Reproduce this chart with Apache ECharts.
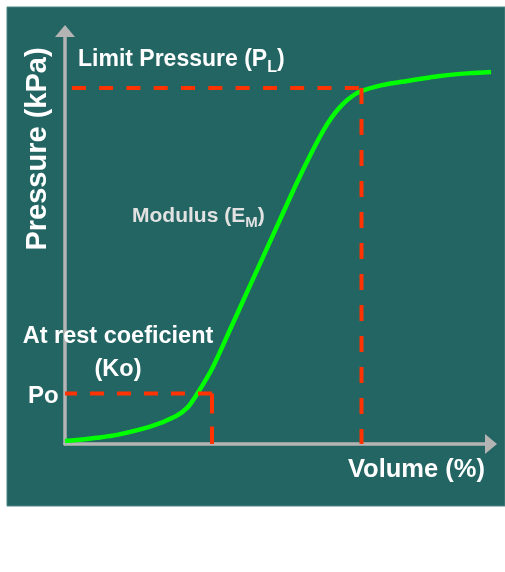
<!DOCTYPE html>
<html>
<head>
<meta charset="utf-8">
<script src="https://cdn.jsdelivr.net/npm/echarts@6/dist/echarts.min.js"></script>
<style>
  html, body { margin: 0; padding: 0; background: #ffffff; }
  #chart { width: 505px; height: 572px; }
</style>
</head>
<body>
<div id="chart"></div>
<script>
// Pressuremeter curve: volume (%) against pressure (kPa), arbitrary units 0-100
const volume   = [0, 8.2, 12.2, 20.0, 26.1, 28.9, 31.0, 34.7, 38.7, 42.7, 46.5, 50.5, 54.4, 58.2, 61.4, 63.8, 66.4, 69.2, 74.4, 79.1, 88.0, 95.1, 100];
const pressure = [0.7, 1.6, 2.2, 4.2, 6.8, 9.0, 12.1, 18.6, 27.6, 36.7, 45.3, 54.4, 63.2, 71.2, 77.2, 80.7, 83.4, 85.3, 86.9, 87.7, 89.1, 89.8, 90.1];

// At-rest point (Po) and limit pressure point (PL)
const poPressure = 12.2;
const poVolume = 34.5;
const plPressure = 86.2;
const plVolume = 69.6;
const plGuideStart = 1.6;

const FONT = '"Liberation Sans", Arial, Helvetica, sans-serif';
const TEAL = '#236563';
const RED = '#ff3300';
const GREEN = '#00ff00';
const AXIS = '#b4b4b4';

const curve = volume.map((v, i) => [v, pressure[i]]);

function guide(name, data, dash) {
  return {
    name: name,
    type: 'line',
    data: data,
    showSymbol: false,
    silent: true,
    z: 5,
    lineStyle: { color: RED, width: 4, type: dash, cap: 'butt' }
  };
}

const chart = echarts.init(document.getElementById('chart'), null, { renderer: 'canvas' });

chart.setOption({
  animation: false,
  backgroundColor: '#ffffff',
  grid: { left: 65, right: 14, top: 31, bottom: 128, containLabel: false },
  xAxis: {
    type: 'value', min: 0, max: 100,
    axisLine: { show: true, symbol: ['none', 'triangle'], symbolSize: [20, 12], lineStyle: { color: AXIS, width: 3.5 } },
    axisTick: { show: false }, axisLabel: { show: false }, splitLine: { show: false }
  },
  yAxis: {
    type: 'value', min: 0, max: 100,
    axisLine: { show: true, symbol: ['none', 'triangle'], symbolSize: [20, 12], lineStyle: { color: AXIS, width: 3.5 } },
    axisTick: { show: false }, axisLabel: { show: false }, splitLine: { show: false }
  },
  graphic: [
    { type: 'rect', z: -10, shape: { x: 7, y: 7, width: 498, height: 499 }, style: { fill: TEAL, stroke: '#4d8583', lineWidth: 1 } },
    {
      type: 'text', x: 78, y: 60, z: 10,
      style: {
        text: '{m|Limit Pressure (P}{s|L}{m|)}', fill: '#ffffff', textVerticalAlign: 'middle',
        rich: {
          m: { fontFamily: FONT, fontWeight: 'bold', fontSize: 23, lineHeight: 36, fill: '#ffffff' },
          s: { fontFamily: FONT, fontWeight: 'bold', fontSize: 16, lineHeight: 20, padding: [16, 0, 0, 0], fill: '#ffffff' }
        }
      }
    },
    {
      type: 'text', x: 38, y: 149, rotation: Math.PI / 2, z: 10,
      style: { text: 'Pressure (kPa)', fill: '#ffffff', font: 'bold 29px ' + FONT, textAlign: 'center', textVerticalAlign: 'middle' }
    },
    {
      type: 'text', x: 132, y: 216, z: 10,
      style: {
        text: '{m|Modulus (E}{s|M}{m|)}', fill: '#e2e2e2', textVerticalAlign: 'middle',
        rich: {
          m: { fontFamily: FONT, fontWeight: 'bold', fontSize: 21, lineHeight: 32, fill: '#e2e2e2' },
          s: { fontFamily: FONT, fontWeight: 'bold', fontSize: 15, lineHeight: 18, padding: [14, 0, 0, 0], fill: '#e2e2e2' }
        }
      }
    },
    {
      type: 'text', x: 118, y: 337, z: 10,
      style: { text: 'At rest coeficient', fill: '#ffffff', font: 'bold 23.5px ' + FONT, textAlign: 'center', textVerticalAlign: 'middle' }
    },
    {
      type: 'text', x: 118, y: 370, z: 10,
      style: { text: '(Ko)', fill: '#ffffff', font: 'bold 23.5px ' + FONT, textAlign: 'center', textVerticalAlign: 'middle' }
    },
    {
      type: 'text', x: 28, y: 396, z: 10,
      style: { text: 'Po', fill: '#ffffff', font: 'bold 24px ' + FONT, textAlign: 'left', textVerticalAlign: 'middle' }
    },
    {
      type: 'text', x: 348, y: 470, z: 10,
      style: { text: 'Volume (%)', fill: '#ffffff', font: 'bold 25.5px ' + FONT, textAlign: 'left', textVerticalAlign: 'middle' }
    }
  ],
  series: [
    {
      name: 'Pressure curve',
      type: 'line',
      data: curve,
      smooth: 0.25,
      showSymbol: false,
      z: 3,
      lineStyle: { color: GREEN, width: 4.5 }
    },
    guide('PL horizontal', [[plGuideStart, plPressure], [plVolume, plPressure]], [14, 13.3]),
    guide('PL vertical', [[plVolume, plPressure], [plVolume, 0]], [16, 15]),
    guide('Po horizontal', [[poVolume, poPressure], [0, poPressure]], [14, 13]),
    guide('Po vertical', [[poVolume, poPressure], [poVolume, 0]], [20, 13])
  ]
});
</script>
</body>
</html>
